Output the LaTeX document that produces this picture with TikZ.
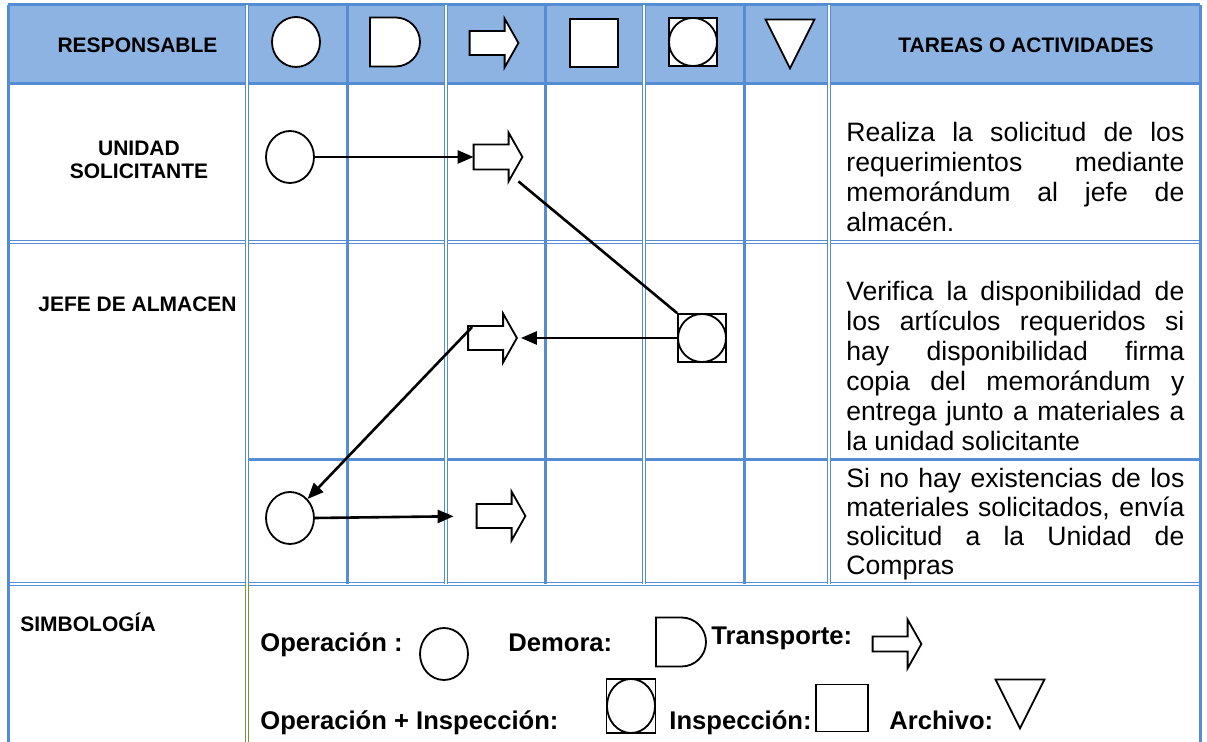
\documentclass[tikz,border=0pt]{standalone}
\usepackage{fontspec}
\setmainfont{Liberation Sans}
\usepackage{tikz}
\usetikzlibrary{shapes.geometric,shapes.misc,arrows.meta,calc}

\definecolor{borde}{RGB}{84,141,212}
\definecolor{cabecera}{RGB}{141,179,226}
\definecolor{verde}{RGB}{119,147,60}

\tikzset{
  linea/.style={draw=borde, line width=1.5pt},
  doble/.style={draw=borde, line width=0.75pt, double=white, double distance=0.75pt},
  simbolo/.style={draw, line width=0.9pt, fill=white, inner sep=0pt},
  operacion/.style={simbolo, ellipse, minimum width=24pt, minimum height=26pt},
  demora/.style={simbolo, rounded rectangle, rounded rectangle left arc=none, minimum width=25pt, minimum height=24.5pt},
  inspeccion/.style={simbolo, rectangle, minimum width=24pt, minimum height=24pt},
  opinsp/.style={inspeccion, path picture={\draw[line width=0.9pt] (path picture bounding box.center) ellipse [x radius=12pt, y radius=#1];}},
  opinsp/.default=12pt,
  hueco/.style={rectangle, inner sep=0pt, minimum width=24pt, minimum height=24pt},
  flecha/.style={line width=1.3pt, -{Triangle[length=8pt, width=6.5pt]}},
  titulo/.style={font=\fontsize{10.5}{11.4}\selectfont\bfseries, align=center, inner sep=0pt},
  tarea/.style={font=\fontsize{13.3}{#1}\selectfont, text width=169pt, align=justify, inner sep=0pt, anchor=north west,
    execute at begin node={\tolerance=10000 \hyphenpenalty=10000 }},
  tarea/.default=14.9pt,
  leyenda/.style={font=\fontsize{12.8}{15}\selectfont\bfseries, anchor=base west, inner sep=0pt},
}

% flecha de transporte: nombre, centro, medio cuerpo
\newcommand{\transporte}[3]{%
  \node[hueco] (#1) at (#2) {};
  \draw[line width=0.9pt, fill=white] ($(#1.west)+(0,-#3)$) -- ($(#1.west)+(35,-#3)$)
    -- ($(#1.north west)+(35,0)$) -- (#1.east) -- ($(#1.south west)+(35,0)$)
    -- ($(#1.west)+(35,#3)$) -- ($(#1.west)+(0,#3)$) -- cycle;}
% archivo: triangulo hacia abajo
\newcommand{\archivo}[2]{%
  \node[hueco] (#1) at (#2) {};
  \draw[line width=0.9pt, fill=white] (#1.north west) -- (#1.north east) -- (#1.south) -- cycle;}

\begin{document}
\begin{tikzpicture}[x=0.5pt, y=-0.5pt]
  \useasboundingbox (0,0) rectangle (1207,742);

  % tabla
  \fill[cabecera] (8,5) rectangle (1200,84);
  \draw[linea] (8,5) -- (1200,5);
  \draw[linea] (8,84) -- (1200,84);
  \draw[doble] (8,242) -- (1200,242);
  \draw[linea] (247,460) -- (1200,460);
  \draw[doble] (8,584) -- (1200,584);
  \draw[linea] (8,5) -- (8,742);
  \draw[linea] (1200,5) -- (1200,742);
  \foreach \x in {347,545,744} \draw[linea] (\x,5) -- (\x,584);
  \foreach \x in {247,446,644,829} \draw[doble] (\x,5) -- (\x,584);
  \draw[doble, draw=verde] (247,584) -- (247,742);

  % cabecera
  \node[titulo] (resp) at (137.5,45) {RESPONSABLE};
  \node[operacion, minimum height=25pt] (hop) at (296,42) {};
  \node[demora] (hdem) at (395,42) {};
  \transporte{htra}{494,43}{12}
  \node[inspeccion] (hins) at (594,43) {};
  \node[opinsp] (hoi) at (693,42) {};
  \archivo{harc}{790,44}
  \node[titulo] (tareas) at (1026,45) {TAREAS O ACTIVIDADES};

  % responsables
  \node[titulo] (unidad) at (139,160) {UNIDAD\\SOLICITANTE};
  \node[titulo] (jefe) at (137.5,304) {JEFE DE ALMACEN};

  % flujo
  \node[operacion] (op1) at (290,157) {};
  \transporte{tr1}{498,157}{12.5}
  \node[opinsp] (oi1) at (702,338) {};
  \transporte{tr2}{492.5,338}{12}
  \node[operacion] (op2) at (290,518) {};
  \transporte{tr3}{501,516}{12}

  \draw[flecha] (op1.east) -- (tr1.west);
  \draw[line width=1.3pt] ($(tr1.south east)+(-4,0)$) -- (oi1.north west);
  \draw[flecha] (oi1.west) -- ($(tr2.east)+(4,0)$);
  \draw[flecha] ($(tr2.west)+(4,-11)$) -- (op2.north east);
  \draw[flecha, shorten >=11.5pt] (op2.east) -- (tr3.west);

  % tareas
  \node[tarea] (ta1) at (846,122) {Realiza la solicitud de los\linebreak requerimientos mediante\linebreak memorándum al jefe de\linebreak almacén.};
  \node[tarea=15pt] (ta2) at (846,281) {Verifica la disponibilidad de\linebreak los artículos requeridos si\linebreak hay disponibilidad firma\linebreak copia del memorándum y\linebreak entrega junto a materiales a\linebreak la unidad solicitante};
  \node[tarea=14.5pt] (ta3) at (846,468) {Si no hay existencias de los\linebreak materiales solicitados, envía\linebreak solicitud a la Unidad de\linebreak Compras};

  % simbologia
  \node[titulo, anchor=base west] (simb) at (20,632) {SIMBOLOGÍA};
  \node[leyenda] (lop-t) at (260,652) {Operación :};
  \node[operacion] (lop) at (444,654) {};
  \node[leyenda] (ldem-t) at (508,652) {Demora:};
  \node[demora] (ldem) at (681,642) {};
  \node[leyenda] (ltra-t) at (711,645) {Transporte:};
  \transporte{ltra}{897,644}{7.5}
  \node[leyenda] (loi-t) at (260,730) {Operación + Inspección:};
  \node[opinsp=13.5pt, minimum width=24.5pt, minimum height=27pt] (loi) at (631,706) {};
  \node[leyenda] (lins-t) at (669,730) {Inspección:};
  \node[inspeccion, minimum width=26pt, minimum height=23.5pt] (lins) at (842,708) {};
  \node[leyenda] (larc-t) at (889,730) {Archivo:};
  \archivo{larc}{1020,704}
\end{tikzpicture}
\end{document}
